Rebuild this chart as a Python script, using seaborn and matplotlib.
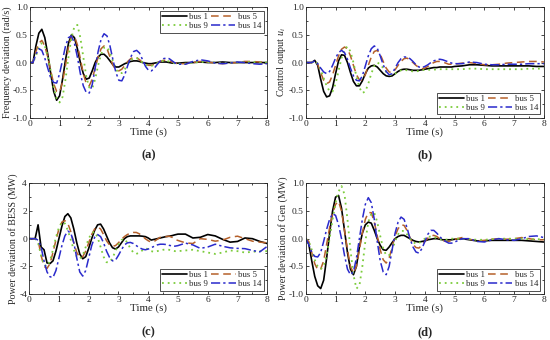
import numpy as np
import pandas as pd
import matplotlib
matplotlib.use("Agg")
import matplotlib.pyplot as plt
from matplotlib.ticker import AutoMinorLocator, MultipleLocator
from matplotlib.lines import Line2D
import seaborn as sns

sns.set_style("ticks")
plt.rcParams['font.family'] = ['Liberation Serif', 'DejaVu Serif']
plt.rcParams['mathtext.fontset'] = 'custom'
plt.rcParams['mathtext.it'] = 'Liberation Serif:italic'
plt.rcParams['mathtext.rm'] = 'Liberation Serif'
plt.rcParams['axes.unicode_minus'] = False

time_s = [0.0, 0.1, 0.2, 0.3, 0.4, 0.5, 0.6, 0.7, 0.8, 0.9,
          1.0, 1.1, 1.2, 1.3, 1.4, 1.5, 1.6, 1.7, 1.8, 1.9,
          2.0, 2.1, 2.2, 2.3, 2.4, 2.5, 2.6, 2.7, 2.8, 2.9,
          3.0, 3.1, 3.2, 3.3, 3.4, 3.5, 3.6, 3.7, 3.8, 3.9,
          4.0, 4.1, 4.2, 4.3, 4.4, 4.5, 4.6, 4.7, 4.8, 4.9,
          5.0, 5.25, 5.5, 5.75, 6.0, 6.25, 6.5, 6.75, 7.0, 7.25, 7.5, 7.75, 8.0]

series_names = ["bus 1", "bus 5", "bus 9", "bus 14"]

# (a) Frequency deviation (rad/s)
freq_bus1 = [0, 0, 0.3, 0.53, 0.6, 0.45, 0.15, -0.2, -0.52, -0.68,
             -0.6, -0.3, 0.05, 0.35, 0.5, 0.45, 0.25, 0.0, -0.2, -0.3,
             -0.28, -0.15, 0.0, 0.1, 0.15, 0.15, 0.1, 0.03, -0.04, -0.08,
             -0.08, -0.05, -0.02, 0.0, 0.02, 0.03, 0.03, 0.02, 0.0, -0.01,
             -0.02, -0.02, -0.01, 0.0, 0.01, 0.01, 0.01, 0.0, -0.01, -0.01,
             -0.01, 0.0, 0.0, 0.01, 0.0, 0.0, 0.01, 0.0, 0.0, 0.0, 0.0, 0.0, 0.0]
freq_bus5 = [0, 0, 0.2, 0.35, 0.4, 0.3, 0.1, -0.15, -0.38, -0.52,
             -0.53, -0.35, -0.05, 0.28, 0.47, 0.48, 0.32, 0.07, -0.2, -0.38,
             -0.42, -0.3, -0.1, 0.1, 0.25, 0.3, 0.25, 0.1, -0.05, -0.13,
             -0.15, -0.12, -0.05, 0.02, 0.07, 0.1, 0.09, 0.05, 0.0, -0.03,
             -0.05, -0.05, -0.03, 0.0, 0.02, 0.04, 0.04, 0.03, 0.01, -0.01,
             -0.02, -0.02, 0.0, 0.02, 0.01, -0.01, -0.02, -0.01, 0.0, 0.02, 0.02, 0.01, 0.0]
freq_bus9 = [0, 0, 0.12, 0.27, 0.35, 0.3, 0.12, -0.15, -0.45, -0.65,
             -0.72, -0.62, -0.3, 0.1, 0.45, 0.65, 0.68, 0.45, 0.1, -0.25,
             -0.45, -0.47, -0.3, -0.05, 0.15, 0.27, 0.28, 0.18, 0.02, -0.12,
             -0.19, -0.19, -0.12, -0.03, 0.04, 0.08, 0.08, 0.05, 0.0, -0.04,
             -0.06, -0.06, -0.04, -0.01, 0.02, 0.03, 0.03, 0.02, 0.0, -0.02,
             -0.02, -0.02, 0.0, 0.01, 0.01, 0.0, -0.01, -0.01, 0.0, 0.01, 0.01, 0.0, 0.0]
freq_bus14 = [0, 0, 0.15, 0.25, 0.22, 0.08, -0.1, -0.28, -0.36, -0.37,
              -0.2, 0.05, 0.3, 0.45, 0.48, 0.35, 0.1, -0.2, -0.42, -0.54,
              -0.55, -0.4, -0.1, 0.2, 0.42, 0.52, 0.48, 0.3, 0.05, -0.18,
              -0.32, -0.33, -0.22, -0.05, 0.1, 0.2, 0.22, 0.17, 0.05, -0.07,
              -0.14, -0.15, -0.1, -0.03, 0.03, 0.07, 0.08, 0.07, 0.03, -0.01,
              -0.03, -0.03, 0.02, 0.05, 0.03, -0.01, -0.02, -0.01, 0.01, 0.0, -0.02, -0.03, -0.02]

# (b) Control output u_i
ctrl_bus1 = [0, 0, 0.0, 0.04, -0.05, -0.3, -0.52, -0.62, -0.6, -0.45,
             -0.2, 0.03, 0.14, 0.13, 0.0, -0.18, -0.34, -0.42, -0.42, -0.33,
             -0.2, -0.1, -0.06, -0.05, -0.08, -0.14, -0.2, -0.24, -0.25, -0.24,
             -0.2, -0.16, -0.13, -0.12, -0.12, -0.13, -0.14, -0.14, -0.14, -0.13,
             -0.12, -0.11, -0.1, -0.09, -0.09, -0.08, -0.08, -0.08, -0.08, -0.08,
             -0.07, -0.06, -0.04, -0.04, -0.05, -0.06, -0.06, -0.06, -0.06, -0.06, -0.06, -0.07, -0.07]
ctrl_bus5 = [0, 0, 0.0, 0.04, -0.03, -0.18, -0.32, -0.38, -0.35, -0.22,
             -0.05, 0.12, 0.24, 0.28, 0.25, 0.12, -0.05, -0.22, -0.31, -0.32,
             -0.22, -0.05, 0.1, 0.2, 0.22, 0.15, 0.02, -0.1, -0.17, -0.18,
             -0.13, -0.05, 0.02, 0.07, 0.08, 0.05, 0.0, -0.05, -0.09, -0.11,
             -0.1, -0.07, -0.03, 0.0, 0.02, 0.02, 0.01, -0.01, -0.03, -0.03,
             -0.03, -0.01, 0.0, -0.02, -0.04, -0.04, -0.03, -0.01, 0.0, 0.01, 0.02, 0.02, 0.01]
ctrl_bus9 = [0, 0, 0.0, 0.03, -0.02, -0.12, -0.28, -0.42, -0.52, -0.52,
             -0.38, -0.15, 0.08, 0.24, 0.29, 0.2, 0.0, -0.25, -0.45, -0.55,
             -0.52, -0.38, -0.2, -0.06, 0.0, -0.03, -0.1, -0.17, -0.22, -0.23,
             -0.2, -0.16, -0.14, -0.13, -0.14, -0.15, -0.16, -0.16, -0.15, -0.14,
             -0.13, -0.13, -0.13, -0.13, -0.12, -0.12, -0.12, -0.12, -0.12, -0.12,
             -0.12, -0.12, -0.11, -0.11, -0.12, -0.12, -0.12, -0.12, -0.12, -0.12, -0.11, -0.11, -0.11]
ctrl_bus14 = [0, 0, 0.0, 0.03, -0.02, -0.1, -0.17, -0.2, -0.16, -0.05,
              0.08, 0.18, 0.22, 0.18, 0.06, -0.1, -0.24, -0.32, -0.33, -0.24,
              -0.06, 0.12, 0.25, 0.3, 0.26, 0.12, -0.04, -0.16, -0.22, -0.2,
              -0.1, 0.0, 0.07, 0.1, 0.1, 0.07, 0.02, -0.04, -0.08, -0.09,
              -0.07, -0.04, 0.0, 0.03, 0.05, 0.06, 0.05, 0.03, 0.01, -0.01,
              -0.02, -0.02, 0.01, 0.0, -0.03, -0.04, -0.04, -0.03, -0.03, -0.03, -0.02, -0.02, -0.02]

# (c) Power deviation of BESS (MW)
bess_bus1 = [0, 0, 0.0, 1.0, -0.6, -0.8, -1.75, -1.8, -1.6, -0.9,
             0.0, 0.9, 1.6, 1.8, 1.5, 0.7, -0.3, -1.1, -1.45, -1.3,
             -0.7, 0.0, 0.6, 1.0, 1.05, 0.7, 0.2, -0.3, -0.65, -0.75,
             -0.6, -0.3, 0.0, 0.15, 0.2, 0.2, 0.2, 0.2, 0.18, 0.15,
             0.05, -0.1, -0.05, 0.0, 0.05, 0.1, 0.15, 0.18, 0.22, 0.28,
             0.33, 0.33, 0.05, 0.1, 0.3, 0.2, -0.05, -0.25, -0.2, 0.05, 0.0, -0.2, -0.35]
bess_bus5 = [0, 0, 0.0, -0.1, -1.2, -2.0, -2.15, -1.8, -1.0, -0.1,
             0.7, 1.2, 1.3, 1.1, 0.5, -0.3, -1.0, -1.35, -1.3, -0.9,
             -0.3, 0.3, 0.7, 0.85, 0.7, 0.3, -0.15, -0.45, -0.55, -0.5,
             -0.3, -0.05, 0.15, 0.3, 0.4, 0.45, 0.45, 0.35, 0.2, 0.0,
             -0.15, -0.25, -0.2, -0.05, 0.1, 0.15, 0.15, 0.18, 0.1, -0.05,
             -0.13, -0.3, -0.35, 0.0, -0.05, -0.18, -0.1, 0.1, 0.18, 0.0, -0.18, -0.25, -0.3]
bess_bus9 = [0, 0, 0.0, -0.3, -1.2, -1.9, -2.0, -1.6, -0.8, 0.1,
             0.8, 1.2, 1.1, 0.6, -0.1, -0.8, -1.3, -1.45, -1.2, -0.6,
             0.0, 0.4, 0.5, 0.1, -0.6, -1.3, -1.7, -1.7, -1.4, -0.9,
             -0.4, -0.1, 0.0, -0.3, -0.7, -1.0, -1.1, -1.0, -0.85, -0.7,
             -0.75, -0.9, -0.95, -0.9, -0.85, -0.8, -0.78, -0.8, -0.85, -0.9,
             -0.9, -0.85, -0.8, -0.9, -1.0, -1.1, -1.0, -0.85, -0.9, -1.0, -0.95, -0.9, -0.9]
bess_bus14 = [0, 0, 0.0, -0.1, -0.6, -1.6, -2.4, -2.75, -2.8, -2.3,
              -1.4, -0.5, 0.2, 0.55, 0.4, -0.3, -1.4, -2.4, -2.7, -2.3,
              -1.4, -0.5, 0.1, 0.3, 0.15, -0.3, -0.9, -1.35, -1.6, -1.55,
              -1.2, -0.8, -0.45, -0.3, -0.27, -0.35, -0.5, -0.65, -0.75, -0.8,
              -0.75, -0.65, -0.55, -0.45, -0.4, -0.4, -0.42, -0.48, -0.52, -0.54,
              -0.5, -0.32, -0.45, -0.7, -0.6, -0.4, -0.55, -0.66, -0.7, -0.72, -0.85, -0.95, -0.55]

# (d) Power deviation of Gen (MW)
gen_bus1 = [0, -0.1, -0.4, -0.68, -0.85, -0.9, -0.75, -0.35, 0.1, 0.5,
            0.75, 0.78, 0.55, 0.15, -0.25, -0.55, -0.65, -0.5, -0.15, 0.1,
            0.25, 0.3, 0.28, 0.15, 0.0, -0.12, -0.2, -0.21, -0.15, -0.07,
            0.0, 0.04, 0.06, 0.06, 0.03, 0.0, -0.03, -0.05, -0.06, -0.05,
            -0.04, -0.02, -0.01, 0.0, 0.0, -0.01, -0.02, -0.02, -0.02, -0.02,
            -0.01, 0.0, -0.02, -0.04, -0.04, -0.03, -0.03, -0.03, -0.03, -0.03, -0.04, -0.05, -0.06]
gen_bus5 = [0, -0.05, -0.25, -0.45, -0.56, -0.55, -0.4, -0.1, 0.2, 0.45,
            0.62, 0.67, 0.5, 0.15, -0.2, -0.5, -0.62, -0.5, -0.2, 0.1,
            0.35, 0.47, 0.47, 0.3, 0.05, -0.2, -0.38, -0.44, -0.35, -0.15,
            0.05, 0.18, 0.25, 0.24, 0.15, 0.02, -0.1, -0.16, -0.17, -0.12,
            -0.05, 0.01, 0.05, 0.06, 0.04, 0.0, -0.03, -0.05, -0.05, -0.03,
            -0.01, 0.02, -0.01, -0.04, -0.03, -0.01, 0.0, -0.01, 0.0, 0.02, 0.0, -0.02, -0.02]
gen_bus9 = [0, -0.05, -0.2, -0.38, -0.5, -0.55, -0.5, -0.3, 0.0, 0.35,
            0.65, 0.85, 0.95, 0.8, 0.35, -0.2, -0.65, -0.9, -0.85, -0.5,
            -0.05, 0.3, 0.45, 0.47, 0.3, 0.05, -0.18, -0.3, -0.3, -0.2,
            -0.05, 0.08, 0.14, 0.14, 0.08, 0.0, -0.06, -0.09, -0.08, -0.04,
            0.0, 0.03, 0.04, 0.03, 0.01, -0.01, -0.02, -0.02, -0.01, 0.0,
            0.0, 0.0, -0.01, -0.02, -0.02, -0.01, 0.0, 0.0, 0.0, 0.0, -0.01, -0.01, -0.01]
gen_bus14 = [0, -0.1, -0.25, -0.32, -0.33, -0.25, -0.05, 0.17, 0.35, 0.45,
             0.42, 0.25, 0.0, -0.3, -0.55, -0.65, -0.6, -0.35, 0.0, 0.35,
             0.62, 0.74, 0.65, 0.35, -0.05, -0.4, -0.6, -0.65, -0.5, -0.2,
             0.1, 0.3, 0.39, 0.35, 0.2, 0.0, -0.15, -0.24, -0.26, -0.18,
             -0.05, 0.08, 0.15, 0.15, 0.1, 0.04, -0.02, -0.05, -0.08, -0.08,
             -0.06, 0.0, 0.0, -0.05, -0.06, -0.02, 0.0, -0.02, -0.03, 0.0, 0.04, 0.05, 0.02]

panels = [
    ("(a)", "Frequency deviation (rad/s)", [freq_bus1, freq_bus5, freq_bus9, freq_bus14], (-1.0, 1.0), 0.5, "upper right"),
    ("(b)", "Control output $u_i$", [ctrl_bus1, ctrl_bus5, ctrl_bus9, ctrl_bus14], (-1.0, 1.0), 0.5, "lower right"),
    ("(c)", "Power deviation of BESS (MW)", [bess_bus1, bess_bus5, bess_bus9, bess_bus14], (-4, 4), 2, "lower right"),
    ("(d)", "Power deviation of Gen (MW)", [gen_bus1, gen_bus5, gen_bus9, gen_bus14], (-1.0, 1.0), 0.5, "lower right"),
]

colors = ["#000000", "#b5602a", "#7ccc3c", "#2a2acc"]
styles = ["-", (0, (5, 3)), (0, (1, 2.2)), (0, (6, 2, 1.5, 2))]
widths = [1.2, 1.1, 1.3, 1.1]

fig = plt.figure(figsize=(5.5, 3.4), dpi=100)
positions = [
    [0.0545, 0.653, 0.431, 0.326],
    [0.556, 0.653, 0.433, 0.326],
    [0.053, 0.135, 0.433, 0.326],
    [0.556, 0.135, 0.433, 0.326],
]
label_y = [0.544, 0.544, 0.024, 0.024]

for i, (tag, ylab, data, ylim, ystep, legloc) in enumerate(panels):
    ax = fig.add_axes(positions[i])
    for name, vals, c, ls, lw in zip(series_names, data, colors, styles, widths):
        df = pd.DataFrame({"t": time_s, "v": vals})
        sns.lineplot(data=df, x="t", y="v", ax=ax, color=c, linestyle=ls, linewidth=lw)
    ax.set_xlim(0, 8)
    ax.set_ylim(*ylim)
    ax.xaxis.set_major_locator(MultipleLocator(1))
    ax.yaxis.set_major_locator(MultipleLocator(ystep))
    ax.xaxis.set_minor_locator(AutoMinorLocator(2))
    ax.yaxis.set_minor_locator(AutoMinorLocator(2))
    ax.tick_params(which="both", direction="in", top=True, right=True, labelsize=6.8, pad=1.5, width=0.6)
    ax.tick_params(which="major", length=2.5)
    ax.tick_params(which="minor", length=1.5)
    for sp in ax.spines.values():
        sp.set_linewidth(0.6)
    if ystep == 0.5:
        ax.set_yticklabels([f"{v:.1f}" for v in ax.get_yticks()])
    ax.set_xlabel("Time (s)", fontsize=7.8, labelpad=-0.5)
    ax.set_ylabel(ylab, fontsize=7.2, labelpad=0.5)
    handles = [Line2D([0], [0], color=c, linestyle=ls, linewidth=lw)
               for c, ls, lw in zip(colors, styles, widths)]
    order = [0, 2, 1, 3]
    leg = ax.legend([handles[k] for k in order], [series_names[k] for k in order],
                    ncol=2, loc=legloc, fontsize=6.3, frameon=True, fancybox=False,
                    edgecolor="black", handlelength=2.8, columnspacing=0.3,
                    handletextpad=0.3, borderpad=0.25, labelspacing=0.15,
                    borderaxespad=0.4)
    leg.get_frame().set_linewidth(0.6)
    pos = positions[i]
    fig.text(pos[0] + pos[2] / 2, label_y[i], tag, ha="center", va="center",
             fontsize=9, fontweight="bold")

fig.savefig("out.png", dpi=100)
